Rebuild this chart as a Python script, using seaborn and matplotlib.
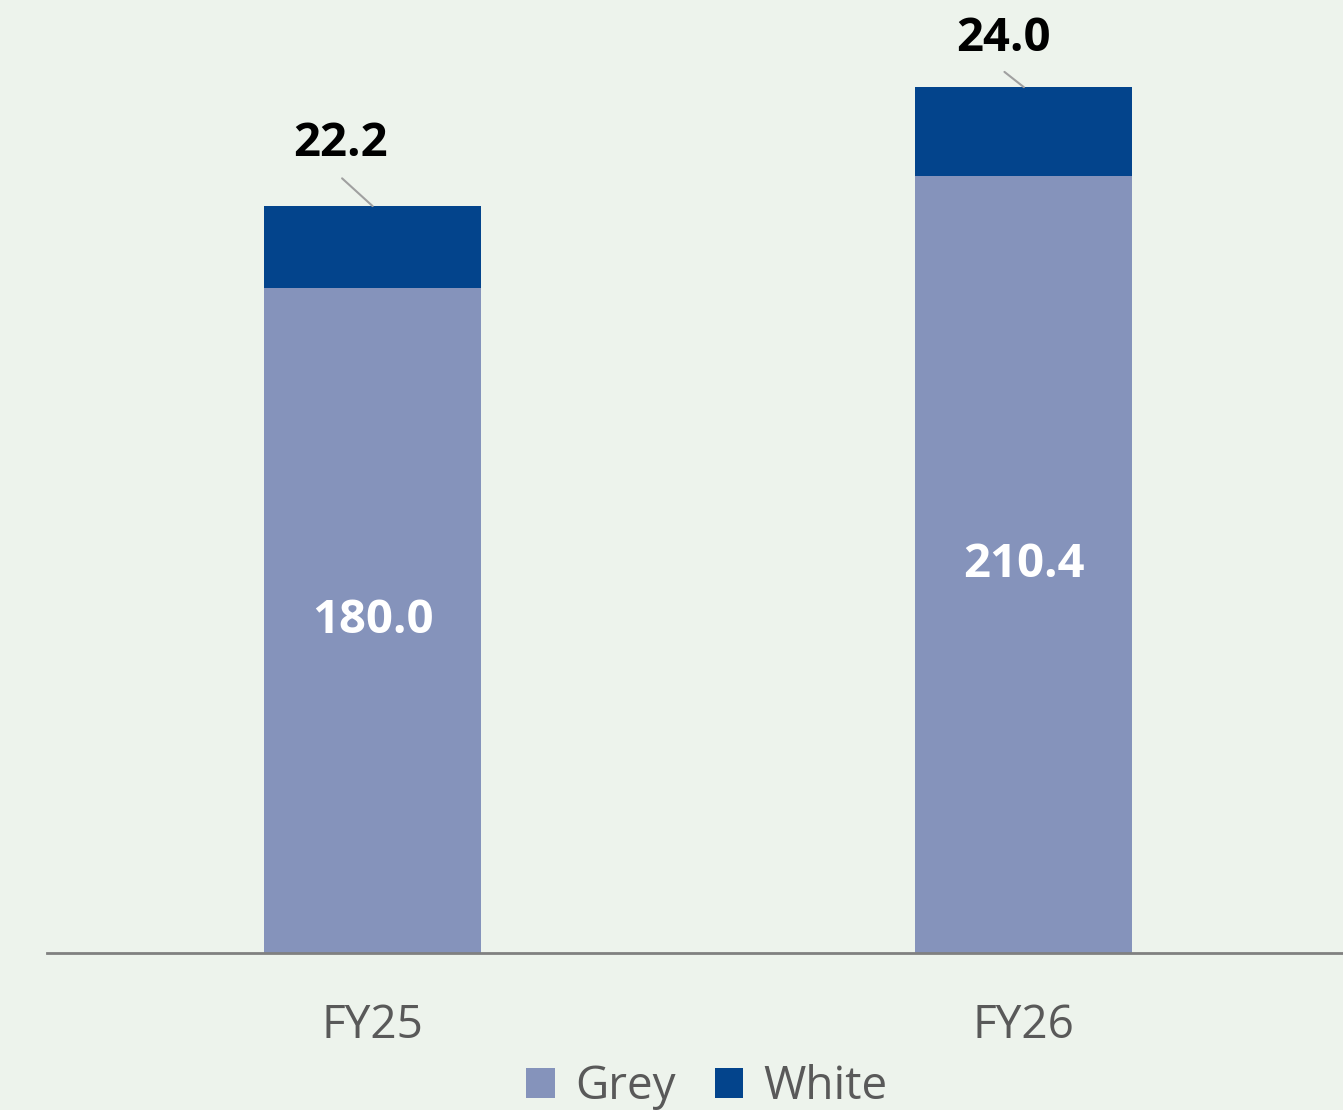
import matplotlib
matplotlib.use("Agg")
import matplotlib.pyplot as plt
import seaborn as sns
import pandas as pd

years = ["FY25", "FY26"]
grey = [180.0, 210.4]
white = [22.2, 24.0]

GREY_C = "#8593BB"
WHITE_C = "#03448C"
BG = "#EDF3EC"
TXT = "#595959"

sns.set_theme(style="white")
plt.rcParams["font.family"] = ["Open Sans", "DejaVu Sans"]

df = pd.DataFrame({"year": years, "grey": grey, "white": white})
df["total"] = df["grey"] + df["white"]

fig = plt.figure(figsize=(13.43, 11.10), dpi=100, facecolor=BG)
ax = fig.add_axes([47 / 1343, 1 - 953 / 1110, 1 - 47 / 1343, 953 / 1110])
ax.set_facecolor(BG)

sns.barplot(data=df, x="year", y="total", color=WHITE_C, width=0.333,
            saturation=1, linewidth=0, ax=ax, label="White")
sns.barplot(data=df, x="year", y="grey", color=GREY_C, width=0.333,
            saturation=1, linewidth=0, ax=ax, label="Grey")

ax.set_xlim(-0.5, 1.49)
ax.set_ylim(0, 258)
ax.set_xlabel("")
ax.set_ylabel("")
ax.set_yticks([])
for s in ["top", "right", "left"]:
    ax.spines[s].set_visible(False)
ax.spines["bottom"].set_color("#808080")
ax.spines["bottom"].set_linewidth(2)
ax.tick_params(axis="x", length=0, pad=36, labelsize=33, labelcolor=TXT)

# inner labels for Grey
for i, v in enumerate(grey):
    ax.text(i, v / 2, f"{v:.1f}", ha="center", va="center", color="white",
            fontsize=34, fontweight="bold")

# callout labels for White (text + short leader line)
text_off = [(-23, 45), (-15, 35)]
line_off = [(-22, 20), (-14, 11)]
for i, (g, w) in enumerate(zip(grey, white)):
    ax.annotate(f"{w:.1f}", xy=(i, g + w), xytext=text_off[i],
                textcoords="offset points", ha="center", va="center",
                fontsize=34, fontweight="bold", color="black")
    ax.annotate("", xy=(i, g + w), xytext=line_off[i],
                textcoords="offset points",
                arrowprops=dict(arrowstyle="-", color="#A0A0A0", lw=1.5,
                                shrinkA=0, shrinkB=0))

handles, labels = ax.get_legend_handles_labels()
if ax.get_legend() is not None:
    ax.get_legend().remove()
order = [labels.index("Grey"), labels.index("White")]
fig.legend([handles[k] for k in order], [labels[k] for k in order],
           loc="center", bbox_to_anchor=(707 / 1343, 1 - 1087 / 1110),
           ncol=2, frameon=False, fontsize=33, labelcolor=TXT,
           handlelength=0.62, handleheight=0.62, handletextpad=0.45,
           columnspacing=0.85)

fig.savefig("out.png", dpi=100, facecolor=BG)
